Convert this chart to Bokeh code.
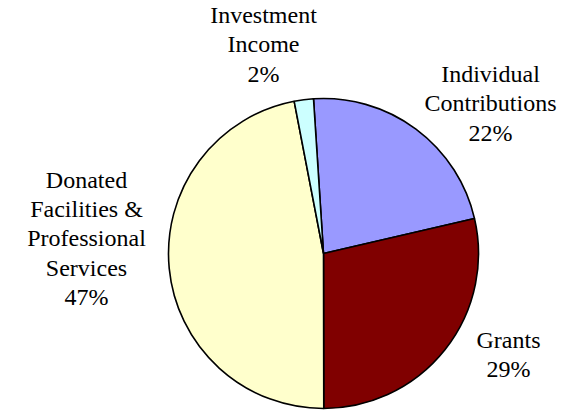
import math
from bokeh.plotting import figure
from bokeh.models import Range1d, ColumnDataSource
from bokeh.core.properties import value
from bokeh.embed import file_html
from bokeh.resources import INLINE

# Data (clockwise from the top)
categories = ["Individual\nContributions", "Grants",
              "Donated\nFacilities &\nProfessional\nServices", "Investment\nIncome"]
shares = [22.4, 28.6, 47.0, 2.0]
colors = ["#9999FF", "#800000", "#FFFFCC", "#CCFFFF"]

W, H = 583, 410
total = sum(shares)
start0 = math.radians(90 + 3.7)
starts, ends = [], []
acc = 0.0
for s in shares:
    a0 = start0 - acc / total * 2 * math.pi
    acc += s
    a1 = start0 - acc / total * 2 * math.pi
    starts.append(a0)
    ends.append(a1)

cx, cy, r = 323, H - 253, 155

p = figure(width=W, height=H, x_range=Range1d(0, W), y_range=Range1d(0, H),
           output_backend="svg", toolbar_location=None, min_border=0)
p.axis.visible = False
p.grid.visible = False
p.outline_line_color = None
p.background_fill_color = "white"
p.border_fill_color = "white"

src = ColumnDataSource(dict(x=[cx] * len(shares), y=[cy] * len(shares),
                            start=starts, end=ends, color=colors))
p.wedge(x="x", y="y", radius=r, start_angle="start", end_angle="end",
        direction="clock", fill_color="color", line_color="black",
        line_width=1.6, source=src)

# label positions (screen px, layout only)
lab_x = [490, 508, 86, 263]
lab_y = [103, 354, 238, 44]
texts = [f"{c}\n{round(s / total * 100)}%" for c, s in zip(categories, shares)]
lsrc = ColumnDataSource(dict(x=lab_x, y=[H - v for v in lab_y], t=texts))
p.text(x="x", y="y", text="t", source=lsrc, text_align="center",
       text_baseline="middle", text_font=value("'Liberation Serif', 'Times New Roman', serif"),
       text_font_size="24px", text_line_height=1.12, text_color="black")

open("out.html", "w").write(file_html(p, INLINE))
